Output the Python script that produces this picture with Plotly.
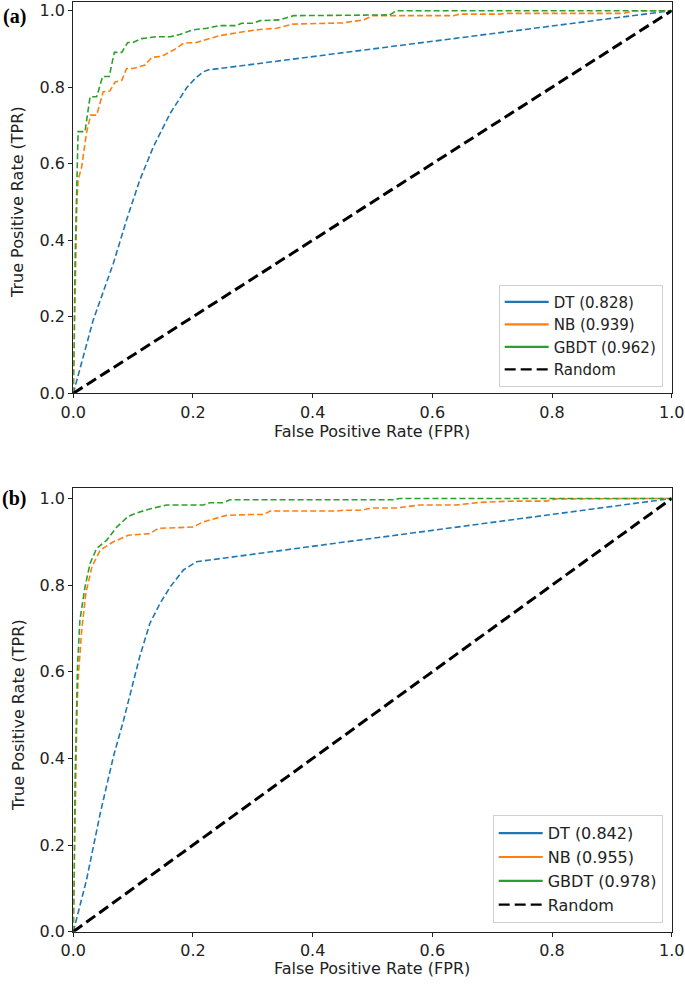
import plotly.graph_objects as go

# ---------------- data ----------------
# Panel (a)
dt_a_fpr = [0, 0.033, 0.067, 0.089, 0.111, 0.134, 0.162, 0.19, 0.205, 0.217, 0.225, 1.0]
dt_a_tpr = [0, 0.19, 0.34, 0.453, 0.557, 0.645, 0.732, 0.80, 0.825, 0.84, 0.845, 1.0]

nb_a_fpr = [0, 0.003, 0.006, 0.008, 0.014, 0.022, 0.029, 0.039, 0.05, 0.061,
            0.07, 0.081, 0.089, 0.10, 0.12, 0.131, 0.148, 0.173, 0.184, 0.206,
            0.226, 0.245, 0.284, 0.312, 0.34, 0.367, 0.45, 0.485, 0.501, 0.635,
            0.646, 0.713, 0.72, 0.919, 0.936, 1.0]
nb_a_tpr = [0, 0.30, 0.50, 0.557, 0.592, 0.68, 0.727, 0.727, 0.788, 0.79,
            0.814, 0.818, 0.849, 0.849, 0.858, 0.878, 0.881, 0.902, 0.915, 0.917,
            0.926, 0.935, 0.945, 0.951, 0.954, 0.965, 0.968, 0.976, 0.987, 0.987,
            0.991, 0.991, 0.993, 0.993, 0.999, 1.0]

gb_a_fpr = [0, 0.003, 0.006, 0.008, 0.0196, 0.028, 0.039, 0.049, 0.060, 0.0685,
            0.081, 0.091, 0.10, 0.114, 0.139, 0.162, 0.178, 0.20, 0.223, 0.245,
            0.273, 0.281, 0.30, 0.312, 0.345, 0.368, 0.529, 0.54, 1.0]
gb_a_tpr = [0, 0.35, 0.55, 0.684, 0.684, 0.775, 0.775, 0.828, 0.828, 0.891,
            0.891, 0.917, 0.917, 0.927, 0.932, 0.932, 0.938, 0.950, 0.954, 0.961,
            0.961, 0.967, 0.967, 0.974, 0.976, 0.987, 0.989, 1.0, 1.0]

# Panel (b)
dt_b_fpr = [0, 0.022, 0.045, 0.067, 0.084, 0.098, 0.111, 0.128, 0.145, 0.162, 0.184, 0.206, 0.228, 1.0]
dt_b_tpr = [0, 0.119, 0.273, 0.404, 0.488, 0.565, 0.635, 0.712, 0.758, 0.796, 0.835, 0.854, 0.858, 1.0]

nb_b_fpr = [0, 0.003, 0.006, 0.008, 0.014, 0.021, 0.031, 0.045, 0.067, 0.092,
            0.128, 0.142, 0.20, 0.217, 0.256, 0.295, 0.318, 0.329, 0.44, 0.451,
            0.479, 0.501, 0.54, 0.579, 0.64, 0.68, 0.735, 0.79, 0.808, 1.0]
nb_b_tpr = [0, 0.30, 0.50, 0.581, 0.696, 0.781, 0.842, 0.881, 0.90, 0.915,
            0.919, 0.931, 0.934, 0.946, 0.961, 0.963, 0.963, 0.971, 0.971, 0.973,
            0.973, 0.978, 0.978, 0.985, 0.985, 0.991, 0.994, 0.994, 0.999, 1.0]

gb_b_fpr = [0, 0.003, 0.007, 0.011, 0.0196, 0.028, 0.039, 0.056, 0.0725, 0.092,
            0.111, 0.131, 0.156, 0.217, 0.228, 0.25, 0.262, 0.535, 0.545, 1.0]
gb_b_tpr = [0, 0.35, 0.611, 0.719, 0.796, 0.85, 0.885, 0.904, 0.934, 0.959,
            0.969, 0.977, 0.985, 0.985, 0.99, 0.99, 0.997, 0.997, 1.0, 1.0]

random_fpr = [0, 1]
random_tpr = [0, 1]

model_names = ["DT", "NB", "GBDT"]
auc_a = ["0.828", "0.939", "0.962"]
auc_b = ["0.842", "0.955", "0.978"]
colors = ["#1f77b4", "#ff7f0e", "#2ca02c"]

x_ticks = [0.0, 0.2, 0.4, 0.6, 0.8, 1.0]
tick_text = ["0.0", "0.2", "0.4", "0.6", "0.8", "1.0"]
x_title = "False Positive Rate (FPR)"
y_title = "True Positive Rate (TPR)"

# ---------------- figure ----------------
W, H = 685, 985
FONT = "DejaVu Sans"
TXT = "#222222"
FS = 16
fig = go.Figure()

panels = [
    ("a", "x", "y", "legend", [(dt_a_fpr, dt_a_tpr), (nb_a_fpr, nb_a_tpr), (gb_a_fpr, gb_a_tpr)], auc_a),
    ("b", "x2", "y2", "legend2", [(dt_b_fpr, dt_b_tpr), (nb_b_fpr, nb_b_tpr), (gb_b_fpr, gb_b_tpr)], auc_b),
]

for tag, xa, ya, lg, curves, aucs in panels:
    for i, (fx, ty) in enumerate(curves):
        fig.add_trace(go.Scatter(
            x=fx, y=ty, mode="lines", xaxis=xa, yaxis=ya,
            line=dict(color=colors[i], width=1.6, dash="6px,3px"),
            showlegend=False, hoverinfo="skip"))
    fig.add_trace(go.Scatter(
        x=random_fpr, y=random_tpr, mode="lines", xaxis=xa, yaxis=ya,
        line=dict(color="black", width=3, dash="11px,5px"),
        showlegend=False, hoverinfo="skip"))
    # legend entries (solid colored lines as in the reference)
    for i in range(3):
        fig.add_trace(go.Scatter(
            x=[None], y=[None], mode="lines", xaxis=xa, yaxis=ya,
            line=dict(color=colors[i], width=2.2),
            name=f"{model_names[i]} ({aucs[i]})", legend=lg,
            legendgroup=f"{tag}{i}", showlegend=True))
    fig.add_trace(go.Scatter(
        x=[None], y=[None], mode="lines", xaxis=xa, yaxis=ya,
        line=dict(color="black", width=2.2, dash="11px,5px"),
        name="Random", legend=lg, legendgroup=f"{tag}3", showlegend=True))


def px_x(p):
    return p / W


def px_y(p):
    return 1 - p / H


x_dom = [px_x(73.3), px_x(671.7)]
ya_dom = [px_y(393.3), px_y(1.7)]
yb_dom = [px_y(931.7), px_y(488.3)]

axis_common = dict(
    showline=True, linecolor=TXT, linewidth=1.1, mirror=True,
    ticks="outside", ticklen=4, tickwidth=1, tickcolor=TXT,
    showgrid=False, zeroline=False, automargin=False,
    tickfont=dict(family=FONT, size=FS, color=TXT),
    tickvals=x_ticks, ticktext=tick_text,
)
ymax = 1.0235

legend_common = dict(
    xanchor="right", yanchor="bottom",
    bgcolor="white", bordercolor="#d0d0d0", borderwidth=1,
    itemwidth=44, traceorder="grouped", tracegroupgap=0,
)


def text_ann(text, xp, yp, angle=0, family=FONT, size=FS, color=TXT):
    return dict(text=text, x=px_x(xp), y=px_y(yp), xref="paper", yref="paper",
                showarrow=False, xanchor="center", yanchor="middle", textangle=angle,
                font=dict(family=family, size=size, color=color))


x_mid = (73.3 + 671.7) / 2

fig.update_layout(
    width=W, height=H,
    margin=dict(l=0, r=0, t=0, b=0),
    paper_bgcolor="white", plot_bgcolor="white",
    font=dict(family=FONT, size=FS, color=TXT),
    xaxis=dict(domain=x_dom, range=[0, 1], anchor="y", **axis_common),
    yaxis=dict(domain=ya_dom, range=[0, ymax], anchor="x", **axis_common),
    xaxis2=dict(domain=x_dom, range=[0, 1], anchor="y2", **axis_common),
    yaxis2=dict(domain=yb_dom, range=[0, ymax], anchor="x2", **axis_common),
    legend=dict(x=px_x(662.7), y=px_y(386.7),
                font=dict(family=FONT, size=15, color=TXT), **legend_common),
    legend2=dict(x=px_x(662.7), y=px_y(923.3),
                 font=dict(family=FONT, size=16, color=TXT), **legend_common),
    annotations=[
        text_ann(x_title, x_mid, 431),
        text_ann(x_title, x_mid, 968),
        text_ann(y_title, 18, 202, angle=-90),
        text_ann(y_title, 18, 715, angle=-90),
        text_ann("<b>(a)</b>", 14, 16, family="Liberation Serif", size=20, color="black"),
        text_ann("<b>(b)</b>", 14, 498, family="Liberation Serif", size=20, color="black"),
    ],
)

fig.write_html(
    "out.html",
    config={"displayModeBar": False},
    post_script="document.body.style.margin='0';document.body.style.padding='0';",
)
